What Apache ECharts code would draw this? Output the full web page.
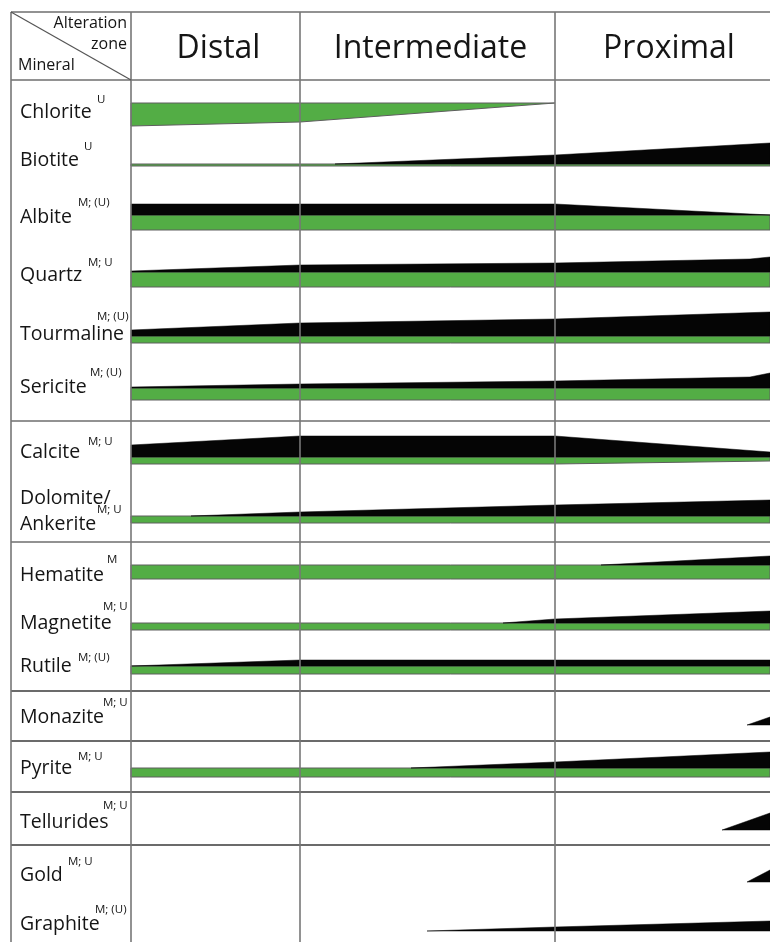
<!DOCTYPE html>
<html>
<head>
<meta charset="utf-8">
<script src="https://cdn.jsdelivr.net/npm/echarts@6/dist/echarts.min.js"></script>
<style>
  html, body { margin: 0; padding: 0; background: #fff; }
  #chart { width: 770px; height: 942px; }
</style>
</head>
<body>
<div id="chart"></div>
<script>
// Alteration zones and the distance range each one spans
const zones = ['Distal', 'Intermediate', 'Proximal'];
const zoneEdges = [0, 169, 424, 646];

// Minerals, top to bottom, with their superscript marks
const minerals = ['Chlorite', 'Biotite', 'Albite', 'Quartz', 'Tourmaline', 'Sericite',
  'Calcite', 'Dolomite/\nAnkerite', 'Hematite', 'Magnetite', 'Rutile',
  'Monazite', 'Pyrite', 'Tellurides', 'Gold', 'Graphite'];
const marks = ['U', 'U', 'M; (U)', 'M; U', 'M; (U)', 'M; (U)', 'M; U', 'M; U', 'M',
  'M; U', 'M; (U)', 'M; U', 'M; U', 'M; U', 'M; U', 'M; (U)'];

// Abundance profiles: [distance, band thickness]
// black = upper band, green = lower band
const chloriteBlack = [];
const chloriteGreen = [[0, 23], [169, 19], [424, 0]];
const biotiteBlack = [[204, 0], [424, 9], [639, 21]];
const biotiteGreen = [[0, 2], [639, 2]];
const albiteBlack = [[0, 11], [424, 11], [639, 0]];
const albiteGreen = [[0, 15], [639, 15]];
const quartzBlack = [[0, 1], [169, 7], [424, 9], [619, 13], [639, 15]];
const quartzGreen = [[0, 15], [639, 15]];
const tourmalineBlack = [[0, 6], [169, 13], [424, 17], [639, 24]];
const tourmalineGreen = [[0, 7], [639, 7]];
const sericiteBlack = [[0, 1], [169, 4], [424, 7], [619, 11], [639, 15]];
const sericiteGreen = [[0, 12], [639, 12]];
const calciteBlack = [[0, 12], [169, 21], [424, 21], [639, 5]];
const calciteGreen = [[0, 7], [424, 7], [639, 4]];
const dolomiteBlack = [[60, 0], [169, 4], [424, 11], [639, 16]];
const dolomiteGreen = [[0, 7], [639, 7]];
const hematiteBlack = [[470, 0], [639, 9]];
const hematiteGreen = [[0, 14], [639, 14]];
const magnetiteBlack = [[372, 0], [424, 4], [639, 12]];
const magnetiteGreen = [[0, 7], [639, 7]];
const rutileBlack = [[0, 0], [169, 6], [639, 6]];
const rutileGreen = [[0, 8], [639, 8]];
const monaziteBlack = [[616, 0], [639, 8]];
const monaziteGreen = [];
const pyriteBlack = [[280, 0], [424, 6], [639, 16]];
const pyriteGreen = [[0, 9], [639, 9]];
const telluridesBlack = [[591, 0], [639, 17]];
const telluridesGreen = [];
const goldBlack = [[616, 0], [639, 12]];
const goldGreen = [];
const graphiteBlack = [[296, 0], [424, 4], [639, 10]];
const graphiteGreen = [];

const blackBands = [chloriteBlack, biotiteBlack, albiteBlack, quartzBlack, tourmalineBlack,
  sericiteBlack, calciteBlack, dolomiteBlack, hematiteBlack, magnetiteBlack, rutileBlack,
  monaziteBlack, pyriteBlack, telluridesBlack, goldBlack, graphiteBlack];
const greenBands = [chloriteGreen, biotiteGreen, albiteGreen, quartzGreen, tourmalineGreen,
  sericiteGreen, calciteGreen, dolomiteGreen, hematiteGreen, magnetiteGreen, rutileGreen,
  monaziteGreen, pyriteGreen, telluridesGreen, goldGreen, graphiteGreen];

// ---- Layout (table units: x = distance, y = depth below the header) ----
const rowBase = [23, 84, 135, 192, 256, 308, 377, 436, 485, 543, 586, 645, 688, 750, 802, 851];
const labelY = [32, 80, 137, 195, 254, 307, 372, 431, 495, 543, 586, 637, 688, 742, 795, 844];
const markPos = [[-34, 20], [-47, 67], [-53, 123], [-43, 183], [-34, 237], [-41, 293],
  [-43, 362], [-34, 430], [-24, 480], [-28, 527], [-53, 578], [-28, 623], [-53, 677],
  [-28, 726], [-63, 782], [-36, 830]];
const X_MIN = -120, X_MAX = 639, Y_MIN = -68, Y_MAX = 862;
const hRules = [Y_MIN, 0, 341, 462, 611, 661, 712, 765];
const vRules = [X_MIN, 0, zoneEdges[1], zoneEdges[2]];

const GREEN = '#53ad45';
const INK = '#151515';
const FONT = '"Open Sans", "Noto Sans", sans-serif';

function bandPolygon(api, pts, base, dir) {
  const top = pts.map(p => api.coord([p[0], base + dir * p[1]]));
  const bottom = pts.slice().reverse().map(p => api.coord([p[0], base]));
  return top.concat(bottom);
}

function renderRow(params, api) {
  const i = params.dataIndex;
  const base = rowBase[i];
  const children = [];
  if (greenBands[i].length) {
    children.push({
      type: 'polygon',
      shape: { points: bandPolygon(api, greenBands[i], base, 1) },
      style: { fill: GREEN, stroke: '#5e5e5e', lineWidth: 1 }
    });
  }
  if (blackBands[i].length) {
    children.push({
      type: 'polygon',
      shape: { points: bandPolygon(api, blackBands[i], base, -1) },
      style: { fill: '#050505', stroke: '#050505', lineWidth: 0.5 }
    });
  }
  // mineral name and its marks
  const lp = api.coord([X_MIN + 9, labelY[i]]);
  children.push({
    type: 'text',
    x: lp[0], y: lp[1],
    style: {
      text: minerals[i], fill: INK, font: '19.5px ' + FONT,
      textAlign: 'left', textVerticalAlign: 'middle', lineHeight: 26
    }
  });
  const mp = api.coord(markPos[i]);
  children.push({
    type: 'text',
    x: mp[0], y: mp[1],
    style: {
      text: marks[i], fill: INK, font: '11.5px ' + FONT,
      textAlign: 'left', textVerticalAlign: 'middle'
    }
  });
  return { type: 'group', children };
}

function renderFrame(params, api) {
  const line = (a, b, color, w) => ({
    type: 'line',
    shape: { x1: a[0], y1: a[1], x2: b[0], y2: b[1] },
    style: { stroke: color, lineWidth: w }
  });
  const children = [];
  hRules.forEach(y => {
    const dark = y >= 611;
    children.push(line(api.coord([X_MIN, y]), api.coord([X_MAX, y]), dark ? '#3a3a3a' : '#6e6e6e', 1.6));
  });
  vRules.forEach(x => {
    children.push(line(api.coord([x, Y_MIN]), api.coord([x, Y_MAX]), '#777', 1.6));
  });
  children.push(line(api.coord([X_MIN, Y_MIN]), api.coord([0, 0]), '#555', 1.2));
  // header corner texts
  const t = (pos, text, align) => ({
    type: 'text', x: pos[0], y: pos[1],
    style: { text, fill: INK, font: '16px ' + FONT, textAlign: align, textVerticalAlign: 'middle' }
  });
  children.push(t(api.coord([-4, -57]), 'Alteration', 'right'));
  children.push(t(api.coord([-4, -36]), 'zone', 'right'));
  children.push(t(api.coord([-113, -15]), 'Mineral', 'left'));
  zones.forEach((z, k) => {
    const c = api.coord([(zoneEdges[k] + zoneEdges[k + 1]) / 2 + 3, -31]);
    children.push({
      type: 'text', x: c[0], y: c[1],
      style: { text: z, fill: INK, font: '32px ' + FONT, textAlign: 'center', textVerticalAlign: 'middle' }
    });
  });
  return { type: 'group', children };
}

const chart = echarts.init(document.getElementById('chart'), null, { renderer: 'canvas' });
chart.setOption({
  animation: false,
  backgroundColor: '#fff',
  grid: { left: 11, top: 12, right: 0, bottom: 0 },
  xAxis: { type: 'value', min: X_MIN, max: X_MAX, show: false },
  yAxis: { type: 'value', min: Y_MIN, max: Y_MAX, inverse: true, show: false },
  series: [
    {
      type: 'custom', clip: false, silent: true,
      data: minerals.map((m, i) => i),
      renderItem: renderRow
    },
    {
      type: 'custom', clip: false, silent: true, z: 5,
      data: [0],
      renderItem: renderFrame
    }
  ]
});
</script>
</body>
</html>
